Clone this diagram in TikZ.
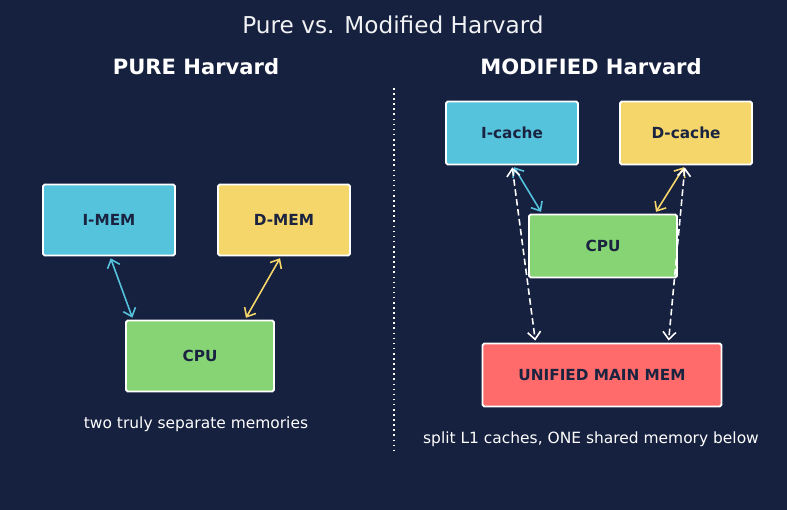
\documentclass[tikz,border=0pt]{standalone}
\usepackage{fontspec}
\setmainfont{DejaVu Sans}
\usetikzlibrary{arrows.meta,positioning,calc}
\definecolor{bgnavy}{RGB}{22,32,63}
\definecolor{memcyan}{RGB}{86,195,221}
\definecolor{memyellow}{RGB}{244,214,106}
\definecolor{cpugreen}{RGB}{134,212,116}
\definecolor{memred}{RGB}{255,107,107}
\definecolor{inkdark}{RGB}{26,35,64}
\tikzset{
  unit/.style={rectangle, rounded corners=1pt, draw=white, line width=1.1pt,
               minimum width=2.64cm, minimum height=1.42cm, inner sep=0pt,
               text=inkdark, font=\fontsize{8.7}{10}\selectfont\bfseries},
  unitcyan/.style={unit, fill=memcyan},
  unityellow/.style={unit, fill=memyellow},
  unitgreen/.style={unit, fill=cpugreen, minimum width=2.96cm},
  unitred/.style={unit, fill=memred, minimum width=4.78cm},
  flat/.style={minimum height=1.26cm},
  heading/.style={text=white, font=\fontsize{12}{14}\selectfont\bfseries},
  caption/.style={text=white, font=\fontsize{8.8}{10}\selectfont},
  link/.style={{Straight Barb[length=1.5mm,width=2.6mm]}-{Straight Barb[length=1.5mm,width=2.6mm]},
               line width=0.9pt, shorten <=0.04cm, shorten >=0.04cm},
  linkcyan/.style={link, memcyan},
  linkyellow/.style={link, memyellow},
  linkwhite/.style={link, white, dash pattern=on 0.13cm off 0.07cm},
}
\begin{document}
\begin{tikzpicture}[x=0.02cm, y=-0.02cm]
\useasboundingbox[fill=bgnavy] (0,0) rectangle (787,510);

% titles
\node[text=white!94!bgnavy, font=\fontsize{13.2}{15}\selectfont] (title) at (393,25) {Pure vs. Modified Harvard};
\node[heading] (pureh) at (196,67) {PURE Harvard};
\node[heading] (modh) at (591,67) {MODIFIED Harvard};

% divider
\coordinate (divtop) at (394,88);
\coordinate (divbot) at (394,450);
\draw[white, line width=0.9pt, dash pattern=on 0.9pt off 2pt] (divtop) -- (divbot);

% pure Harvard
\node[unitcyan] (imem) at (109,220) {I-MEM};
\node[unityellow] (dmem) at (284,220) {D-MEM};
\node[unitgreen] (cpua) at (200,356) {CPU};
\node[caption] (capa) at (196,424) {two truly separate memories};

\draw[linkcyan] ([xshift=0.02cm]imem.south) -- ([xshift=0.16cm]cpua.north west);
\draw[linkyellow] ([xshift=-0.06cm]dmem.south) -- ([xshift=-0.6cm]cpua.north east);

% modified Harvard
\node[unitcyan, flat] (icache) at (512,133) {I-cache};
\node[unityellow, flat] (dcache) at (686,133) {D-cache};
\node[unitgreen, flat] (cpub) at (603,246) {CPU};
\node[unitred, flat] (umem) at (602,375) {UNIFIED MAIN MEM};
\node[caption] (capb) at (591,439) {split L1 caches, ONE shared memory below};

\draw[linkcyan] ([xshift=0.02cm]icache.south) -- ([xshift=0.28cm]cpub.north west);
\draw[linkyellow] ([xshift=-0.02cm]dcache.south) -- ([xshift=-0.46cm]cpub.north east);
\draw[linkwhite] (icache.south) -- ([xshift=1.08cm]umem.north west);
\draw[linkwhite] ([xshift=-0.02cm]dcache.south) -- ([xshift=-1.08cm]umem.north east);
\end{tikzpicture}
\end{document}
